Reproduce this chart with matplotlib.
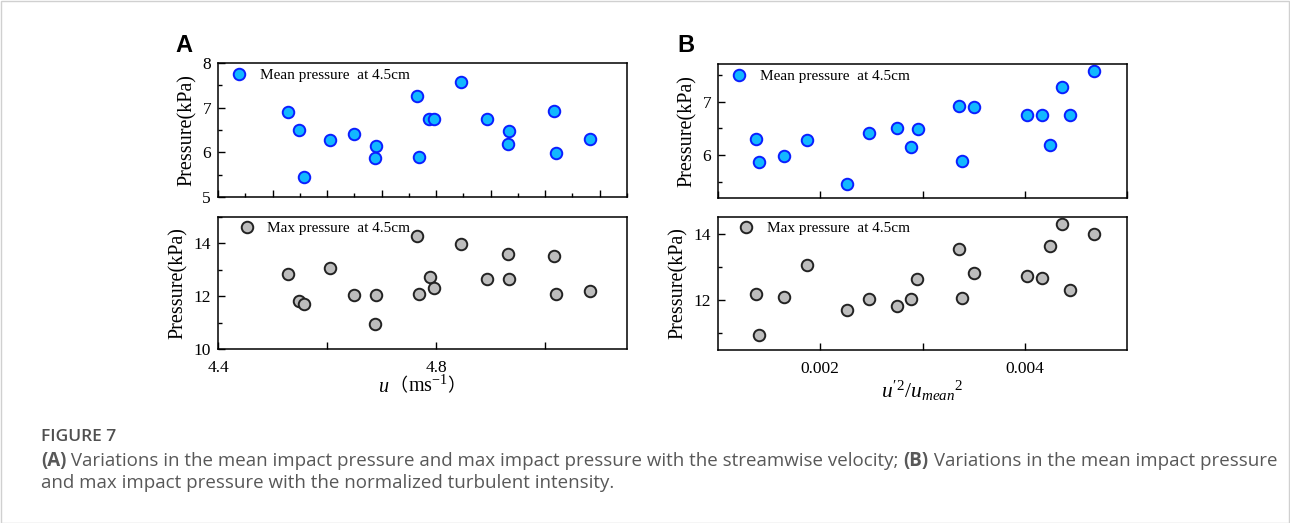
import matplotlib
matplotlib.use("Agg")
import matplotlib.pyplot as plt
from matplotlib.ticker import MultipleLocator, FixedLocator, NullFormatter, FixedFormatter
from matplotlib.patches import Rectangle
from matplotlib.offsetbox import TextArea, HPacker, AnchoredOffsetbox

plt.rcParams['font.family'] = ['Liberation Serif', 'DejaVu Serif', 'Noto Sans CJK SC']
plt.rcParams['mathtext.fontset'] = 'custom'
plt.rcParams['mathtext.rm'] = 'Liberation Serif'
plt.rcParams['mathtext.it'] = 'Liberation Serif:italic'

# panel A: streamwise velocity
u = [4.529, 4.549, 4.557, 4.605, 4.650, 4.690, 4.687, 4.764, 4.768,
     4.787, 4.796, 4.845, 4.893, 4.934, 4.931, 5.017, 5.020, 5.082]
mean_a = [6.90, 6.50, 5.45, 6.28, 6.41, 6.15, 5.87, 7.26, 5.89,
          6.74, 6.75, 7.565, 6.755, 6.48, 6.18, 6.92, 5.98, 6.30]
u_max = [4.529, 4.549, 4.557, 4.605, 4.650, 4.690, 4.687, 4.764, 4.768,
         4.788, 4.796, 4.845, 4.893, 4.931, 4.934, 5.017, 5.020, 5.082]
max_a = [12.825, 11.825, 11.70, 13.06, 12.05, 12.05, 10.95, 14.275, 12.09,
         12.725, 12.31, 13.975, 12.66, 13.61, 12.65, 13.54, 12.10, 12.19]

# panel B: normalized turbulent intensity
ti = [0.001376, 0.001405, 0.001646, 0.00187, 0.002257, 0.002472, 0.002751,
      0.002888, 0.002956, 0.003356, 0.003389, 0.003499, 0.004023, 0.004169,
      0.004244, 0.004361, 0.004446, 0.004673]
mean_b = [6.294, 5.869, 5.98, 6.2875, 5.4625, 6.41, 6.50, 6.156, 6.48,
          6.92, 5.89, 6.90, 6.744, 6.75, 6.18, 7.2625, 6.75, 7.569]
ti_max = [0.001376, 0.001405, 0.001646, 0.00187, 0.002257, 0.002472, 0.002748,
          0.002888, 0.00295, 0.003356, 0.003389, 0.003499, 0.004023, 0.004169,
          0.004244, 0.004361, 0.004446, 0.004673]
max_b = [12.18, 10.94, 12.08, 13.07, 11.707, 12.04, 11.81, 12.03, 12.65,
         13.545, 12.05, 12.82, 12.72, 12.67, 13.63, 14.29, 12.31, 13.99]

W, H = 1290, 523
fig = plt.figure(figsize=(W / 100, H / 100), dpi=100)


def px_axes(x0, y0, x1, y1):
    return fig.add_axes([x0 / W, 1 - y1 / H, (x1 - x0) / W, (y1 - y0) / H])


def style(ax):
    ax.tick_params(which='both', direction='in', labelsize=12.5, width=1,
                   top=False, right=False)
    ax.tick_params(which='major', length=5)
    ax.tick_params(which='minor', length=3)
    ax.tick_params(axis='y', pad=5)
    ax.tick_params(axis='x', pad=8)
    for s in ax.spines.values():
        s.set_linewidth(1.1)
    ax.set_ylabel('Pressure(kPa)', fontsize=14.5, labelpad=4)


blue = dict(marker='o', ls='none', ms=8.3, mfc='#12b8ff', mec='#0a1eff', mew=1.4)
grey = dict(marker='o', ls='none', ms=8.3, mfc='#bdbdbd', mec='#222222', mew=1.4)


def legend(ax, h, lab, x, y):
    ax.legend([h], [lab], loc='center left', bbox_to_anchor=(x, y), frameon=False,
              handlelength=1.0, borderpad=0, borderaxespad=0, handletextpad=0.85,
              prop={'size': 11})


def packed(ax_or_fig, parts, anchor, transform, loc='center', sep=0):
    box = HPacker(children=parts, align='baseline', pad=0, sep=sep)
    ab = AnchoredOffsetbox(loc=loc, child=box, frameon=False, pad=0, borderpad=0,
                           bbox_to_anchor=anchor, bbox_transform=transform)
    ax_or_fig.add_artist(ab)


# ---- A top
ax1 = px_axes(218, 63, 627, 197)
h, = ax1.plot(u, mean_a, **blue)
ax1.set_xlim(4.4, 5.15)
ax1.set_ylim(5, 8)
ax1.xaxis.set_major_locator(MultipleLocator(0.1))
ax1.xaxis.set_minor_locator(MultipleLocator(0.05))
ax1.xaxis.set_major_formatter(NullFormatter())
ax1.yaxis.set_major_locator(MultipleLocator(1))
ax1.yaxis.set_minor_locator(MultipleLocator(0.5))
style(ax1)
legend(ax1, h, 'Mean pressure  at 4.5cm', (231.5 - 218) / 409, (197 - 75) / 134)

# ---- A bottom
ax2 = px_axes(218, 217, 627, 349)
h, = ax2.plot(u_max, max_a, **grey)
ax2.set_xlim(4.4, 5.15)
ax2.set_ylim(10, 15)
ax2.xaxis.set_major_locator(FixedLocator([4.4, 4.6, 4.8, 5.0]))
ax2.xaxis.set_major_formatter(FixedFormatter(['4.4', '', '4.8', '']))
ax2.yaxis.set_major_locator(MultipleLocator(2))
ax2.yaxis.set_minor_locator(MultipleLocator(1))
style(ax2)
legend(ax2, h, 'Max pressure  at 4.5cm', (239 - 218) / 409, (349 - 228.3) / 132)

cjk = ['Noto Sans CJK SC']
packed(ax2, [TextArea('$u$', textprops=dict(fontsize=14.5)),
             TextArea('（', textprops=dict(fontsize=13, family=cjk)),
             TextArea('ms$^{-1}$', textprops=dict(fontsize=14.5)),
             TextArea('）', textprops=dict(fontsize=13, family=cjk))],
       ((422 - 218) / 409, -(386 - 349) / 132), ax2.transAxes)

# ---- B top
ax3 = px_axes(718, 64, 1127, 198)
h, = ax3.plot(ti, mean_b, **blue)
ax3.set_xlim(0.001, 0.005)
ax3.set_ylim(5.2, 7.7)
ax3.xaxis.set_major_locator(MultipleLocator(0.001))
ax3.xaxis.set_major_formatter(NullFormatter())
ax3.yaxis.set_major_locator(MultipleLocator(1))
ax3.yaxis.set_minor_locator(MultipleLocator(0.5))
style(ax3)
legend(ax3, h, 'Mean pressure  at 4.5cm', (731.5 - 718) / 409, (198 - 76) / 134)

# ---- B bottom
ax4 = px_axes(718, 217, 1127, 350)
h, = ax4.plot(ti_max, max_b, **grey)
ax4.set_xlim(0.001, 0.005)
ax4.set_ylim(10.5, 14.5)
ax4.xaxis.set_major_locator(FixedLocator([0.002, 0.003, 0.004]))
ax4.xaxis.set_major_formatter(FixedFormatter(['0.002', '', '0.004']))
ax4.yaxis.set_major_locator(MultipleLocator(2))
ax4.yaxis.set_minor_locator(MultipleLocator(1))
style(ax4)
legend(ax4, h, 'Max pressure  at 4.5cm', (738.5 - 718) / 409, (350 - 228.3) / 133)
ax4.set_xlabel(r"$u'^{2}/{u_{mean}}^{2}$", fontsize=15.5, labelpad=1)

# panel letters
fig.text(175 / W, 1 - 46 / H, 'A', fontsize=17, fontweight='bold',
         family='Liberation Sans', va='center', ha='left')
fig.text(677 / W, 1 - 46 / H, 'B', fontsize=17, fontweight='bold',
         family='Liberation Sans', va='center', ha='left')

# caption
reg = dict(family='Open Sans', color='#585858', fontsize=13.5)
bold = dict(reg, fontweight='bold')
fig.text(41 / W, 1 - 437 / H, 'FIGURE 7', family='Open Sans', color='#505050',
         fontsize=12.5, fontweight='semibold', ha='left', va='center')
packed(fig, [TextArea('(A)', textprops=bold),
             TextArea(' Variations in the mean impact pressure and max impact pressure '
                      'with the streamwise velocity; ', textprops=reg),
             TextArea('(B)', textprops=bold),
             TextArea(' Variations in the mean impact pressure', textprops=reg)],
       (41 / W, 1 - 461 / H), fig.transFigure, loc='center left')
fig.text(41 / W, 1 - 483 / H,
         'and max impact pressure with the normalized turbulent intensity.',
         ha='left', va='center', **reg)

fig.patches.append(Rectangle((0.5 / W, 0.5 / H), 1 - 1.5 / W, 1 - 1.5 / H,
                             transform=fig.transFigure, fill=False,
                             edgecolor='#d0d0d0', lw=1))

fig.savefig('out.png', dpi=100)
